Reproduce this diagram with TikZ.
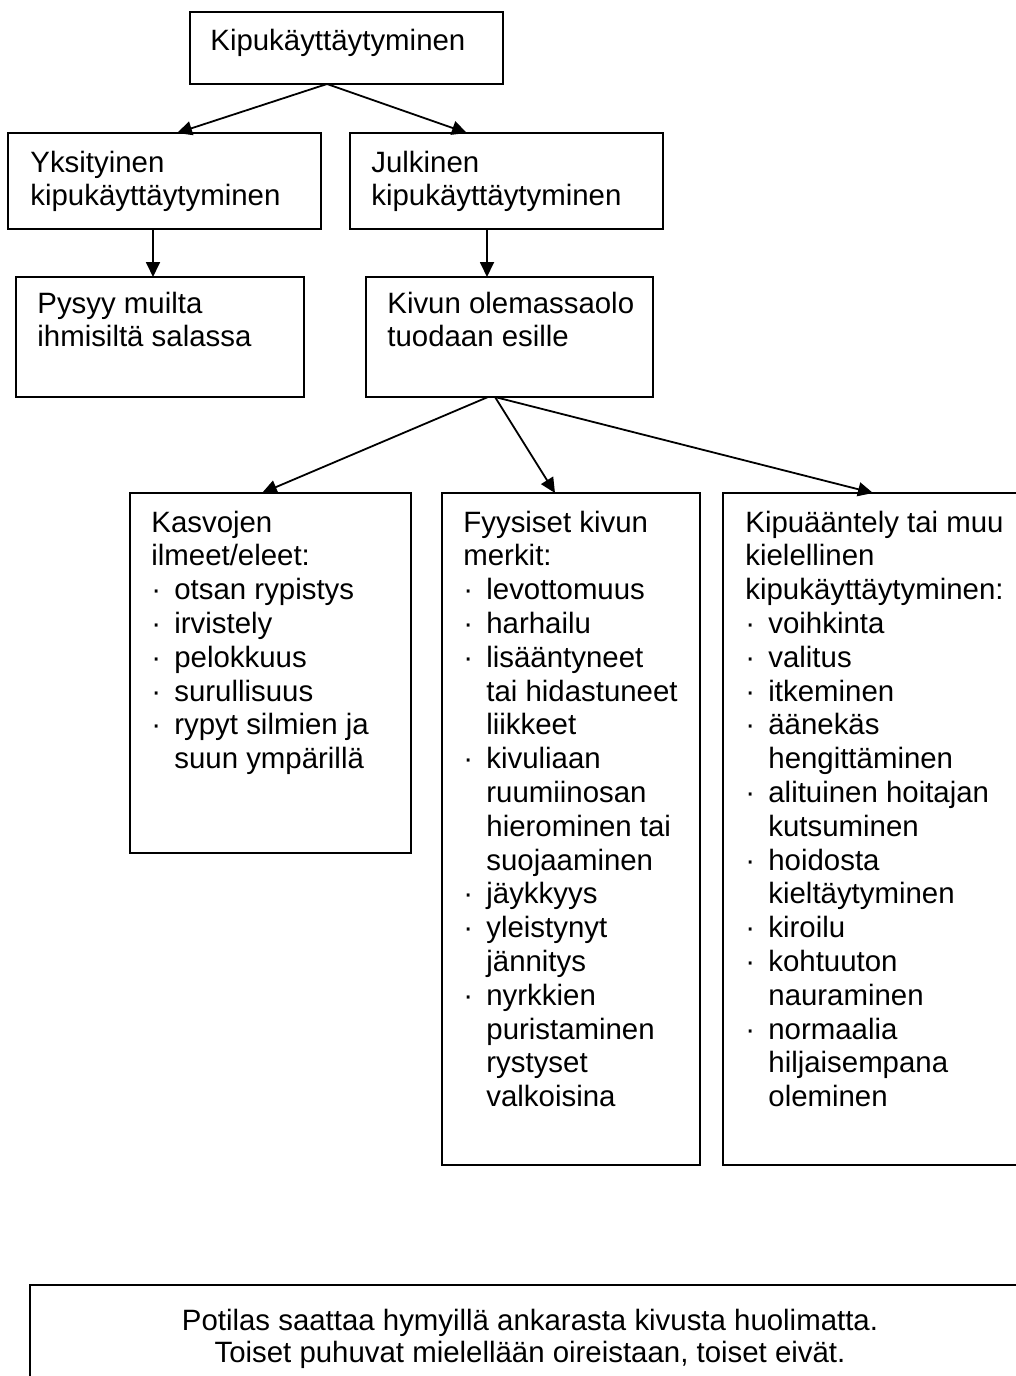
\documentclass[tikz,border=0pt]{standalone}
\usepackage{fontspec}
\setmainfont{Liberation Sans}
\usetikzlibrary{arrows.meta,calc}
\newcommand\bl{\makebox[11.5pt][l]{·}}
\newcommand\ct{\hspace*{11.5pt}}
\newcommand\tp[1]{\parbox[t]{200pt}{\raggedright #1}}
\newcommand\tc[1]{\parbox[t]{480pt}{\centering #1}}
\begin{document}
\begin{tikzpicture}[x=0.5pt,y=-0.5pt,
  box/.style={draw,line width=1pt,anchor=north west,inner sep=0pt,outer sep=0pt},
  txt/.style={anchor=base west,inner sep=0pt,font=\fontsize{14.7}{16.9}\selectfont},
  arr/.style={-{Triangle[length=7.5pt,width=7pt]},line width=0.9pt}]
\useasboundingbox (0,0) rectangle (1016,1376);
\clip (0,0) rectangle (1016,1376);
% boxes
\node[box,minimum width=156.5pt,minimum height=36pt] (top) at (190,12) {};
\node[box,minimum width=156.5pt,minimum height=48pt] (yk) at (8,133) {};
\node[box,minimum width=156.5pt,minimum height=48pt] (ju) at (350,133) {};
\node[box,minimum width=144pt,minimum height=60pt] (py) at (16,277) {};
\node[box,minimum width=143.5pt,minimum height=60pt] (ki) at (366,277) {};
\node[box,minimum width=140.5pt,minimum height=180pt] (ka) at (130,493) {};
\node[box,minimum width=129pt,minimum height=336pt] (fy) at (442,493) {};
\node[box,minimum width=160pt,minimum height=336pt] (kp) at (723,493) {};
\node[box,minimum width=510pt,minimum height=80pt] (bt) at (30,1285) {};
% texts
\node[txt] (topt) at (210,50) {Kipukäyttäytyminen};
\node[txt] (ykt) at (30,172) {\tp{Yksityinen\\kipukäyttäytyminen}};
\node[txt] (jut) at (371,172) {\tp{Julkinen\\kipukäyttäytyminen}};
\node[txt] (pyt) at (37,313) {\tp{Pysyy muilta\\ihmisiltä salassa}};
\node[txt] (kit) at (387,313) {\tp{Kivun olemassaolo\\tuodaan esille}};
\node[txt] (kat) at (151,532) {\tp{Kasvojen\\ilmeet/eleet:\\\bl otsan rypistys\\\bl irvistely\\\bl pelokkuus\\\bl surullisuus\\\bl rypyt silmien ja\\\ct suun ympärillä}};
\node[txt] (fyt) at (463,532) {\tp{Fyysiset kivun\\merkit:\\\bl levottomuus\\\bl harhailu\\\bl lisääntyneet\\\ct tai hidastuneet\\\ct liikkeet\\\bl kivuliaan\\\ct ruumiinosan\\\ct hierominen tai\\\ct suojaaminen\\\bl jäykkyys\\\bl yleistynyt\\\ct jännitys\\\bl nyrkkien\\\ct puristaminen\\\ct rystyset\\\ct valkoisina}};
\node[txt] (kpt) at (745,532) {\tp{Kipuääntely tai muu\\kielellinen\\kipukäyttäytyminen:\\\bl voihkinta\\\bl valitus\\\bl itkeminen\\\bl äänekäs\\\ct hengittäminen\\\bl alituinen hoitajan\\\ct kutsuminen\\\bl hoidosta\\\ct kieltäytyminen\\\bl kiroilu\\\bl kohtuuton\\\ct nauraminen\\\bl normaalia\\\ct hiljaisempana\\\ct oleminen}};
\node[txt,anchor=base,font=\fontsize{14.7}{16}\selectfont] (btt) at (530,1330) {\tc{Potilas saattaa hymyillä ankarasta kivusta huolimatta.\\Toiset puhuvat mielellään oireistaan, toiset eivät.}};
% connectors
\draw[arr] ($(top.south west)+(137,0)$) -- ($(yk.north west)+(169,0)$);
\draw[arr] ($(top.south west)+(137,0)$) -- ($(ju.north west)+(117,0)$);
\draw[arr] ($(yk.south west)+(145,0)$) -- ($(py.north west)+(137,0)$);
\draw[arr] ($(ju.south west)+(137,0)$) -- ($(ki.north west)+(121,0)$);
\draw[arr] ($(ki.south west)+(122,0)$) -- ($(ka.north west)+(132,0)$);
\draw[arr] ($(ki.south west)+(129,0)$) -- ($(fy.north west)+(113,0)$);
\draw[arr] ($(ki.south west)+(129,0)$) -- ($(kp.north west)+(150,0)$);
\end{tikzpicture}
\end{document}
